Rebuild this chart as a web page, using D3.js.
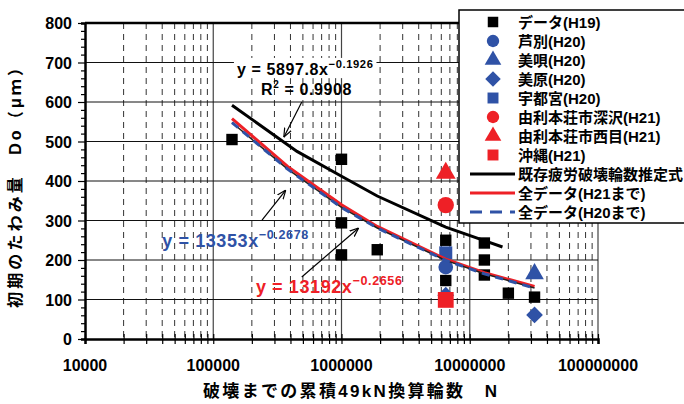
<!DOCTYPE html>
<html>
<head>
<meta charset="utf-8">
<script src="https://cdn.jsdelivr.net/npm/d3@7"></script>
<style>
  body { margin: 0; background: #fff; }
  text { font-family: "Liberation Sans", "Noto Sans CJK JP", sans-serif; font-weight: bold; }
</style>
</head>
<body>
<script>
// data
const h19N = [1.4e5, 1e6, 1e6, 1e6, 1.9e6, 6.5e6, 6.5e6, 1.3e7, 1.3e7, 1.3e7, 2e7, 3.2e7];
const h19D = [505, 455, 294, 213, 226, 250, 148, 243, 200, 162, 116, 106];
const ashibetsuN = [6.5e6], ashibetsuD = [182];
const bibaiN = [3.2e7], bibaiD = [165];
const biharaN = [6.5e6, 3.2e7], biharaD = [111, 61];
const utsunomiyaN = [6.5e6], utsunomiyaD = [218];
const fukasawaN = [6.5e6], fukasawaD = [339];
const nishimeN = [6.5e6], nishimeD = [420];
const okinawaN = [6.5e6], okinawaD = [99];

// fitted curves as drawn
const oldFitN = [1.4e5, 4.5e5, 1e6, 1.9e6, 6.5e6, 1.3e7, 1.8e7];
const oldFitD = [592, 475, 412, 362, 283, 249, 233];
const fitN = [1.4e5, 3.8e5, 1e6, 1.9e6, 6.5e6, 1.3e7, 3.2e7];
const fitH21D = [558, 437, 340, 285, 202, 168, 133];
const fitH20D = [548, 430, 333, 281, 199, 165, 129];

const xTicks = [1e4, 1e5, 1e6, 1e7, 1e8];
const yTicks = [0, 100, 200, 300, 400, 500, 600, 700, 800];

const legendLabels = ['データ(H19)', '芦別(H20)', '美唄(H20)', '美原(H20)', '宇都宮(H20)',
  '由利本荘市深沢(H21)', '由利本荘市西目(H21)', '沖縄(H21)',
  '既存疲労破壊輪数推定式', '全データ(H21まで)', '全データ(H20まで)'];

const W = 684, H = 404;
const pl = 85, pr = 598, pt = 23, pb = 339;
const BLUE = '#2f52a6', RED = '#ee2026';

const svg = d3.select('body').append('svg')
  .attr('width', W).attr('height', H);
svg.append('rect').attr('width', W).attr('height', H).attr('fill', '#fff');

const x = d3.scaleLog().domain([1e4, 1e8]).range([pl, pr]);
const y = d3.scaleLinear().domain([0, 800]).range([pb, pt]);

// minor vertical grid (dashed)
const minors = [];
for (let d = 1e4; d < 1e8; d *= 10)
  for (let k = 2; k <= 9; k++) minors.push(d * k);

const grid = svg.append('g');
grid.selectAll('.vmin').data(minors).enter().append('line')
  .attr('x1', d => x(d)).attr('x2', d => x(d))
  .attr('y1', pt).attr('y2', pb)
  .attr('stroke', '#333').attr('stroke-width', 1).attr('stroke-dasharray', '6,5');
grid.selectAll('.vmaj').data(xTicks.slice(1)).enter().append('line')
  .attr('x1', d => x(d)).attr('x2', d => x(d))
  .attr('y1', pt).attr('y2', pb)
  .attr('stroke', '#444').attr('stroke-width', 1.2);
grid.selectAll('.hmaj').data(yTicks.slice(1, -1)).enter().append('line')
  .attr('x1', pl).attr('x2', pr)
  .attr('y1', d => y(d)).attr('y2', d => y(d))
  .attr('stroke', '#111').attr('stroke-width', 1);

// frame
svg.append('line').attr('x1', pl).attr('x2', pr).attr('y1', pt).attr('y2', pt)
  .attr('stroke', '#000').attr('stroke-width', 2.5);

// axes
const yAxis = d3.axisLeft(y).tickValues(d3.range(0, 801, 20)).tickSize(4).tickFormat('');
svg.append('g').attr('transform', `translate(${pl},0)`).call(yAxis)
  .call(g => g.select('.domain').attr('stroke-width', 2.5))
  .call(g => g.selectAll('.tick line').attr('x2', d => d % 100 === 0 ? -7 : -4).attr('stroke-width', 1.2));
svg.append('g').selectAll('text').data(yTicks).enter().append('text')
  .attr('x', 72).attr('y', d => y(d) + 6)
  .attr('text-anchor', 'end').attr('font-size', 16).text(d => d);

const xAxis = d3.axisBottom(x).tickValues(xTicks.concat(minors)).tickSize(5).tickFormat('');
svg.append('g').attr('transform', `translate(0,${pb})`).call(xAxis)
  .call(g => g.select('.domain').attr('stroke-width', 2.5))
  .call(g => g.selectAll('.tick line').attr('y1', -5).attr('stroke-width', 1.2));
svg.append('g').selectAll('text').data(xTicks).enter().append('text')
  .attr('x', d => x(d)).attr('y', 371)
  .attr('text-anchor', 'middle').attr('font-size', 16).text(d => d);

// axis titles
svg.append('text').attr('x', 350).attr('y', 397).attr('text-anchor', 'middle')
  .attr('font-size', 17).attr('textLength', 294).attr('lengthAdjust', 'spacing')
  .text('破壊までの累積49kN換算輪数　N');
svg.append('text').attr('transform', 'translate(21,184) rotate(-90)').attr('text-anchor', 'middle')
  .attr('font-size', 16).attr('textLength', 248).attr('lengthAdjust', 'spacing')
  .text('初期のたわみ量　Do（μｍ）');

// markers
const diamond = { draw(ctx, size) { const r = Math.sqrt(size) / Math.SQRT2; ctx.moveTo(0, -r); ctx.lineTo(r, 0); ctx.lineTo(0, r); ctx.lineTo(-r, 0); ctx.closePath(); } };
const series = [
  { n: h19N, d: h19D, shape: d3.symbolSquare, size: 130, color: '#000' },
  { n: ashibetsuN, d: ashibetsuD, shape: d3.symbolCircle, size: 170, color: BLUE },
  { n: bibaiN, d: bibaiD, shape: d3.symbolTriangle, size: 150, color: BLUE },
  { n: biharaN, d: biharaD, shape: diamond, size: 140, color: BLUE },
  { n: utsunomiyaN, d: utsunomiyaD, shape: d3.symbolSquare, size: 170, color: BLUE },
  { n: fukasawaN, d: fukasawaD, shape: d3.symbolCircle, size: 210, color: RED },
  { n: nishimeN, d: nishimeD, shape: d3.symbolTriangle, size: 170, color: RED },
  { n: okinawaN, d: okinawaD, shape: d3.symbolSquare, size: 250, color: RED }
];
series.forEach(s => {
  svg.append('g').selectAll('path').data(d3.zip(s.n, s.d)).enter().append('path')
    .attr('transform', p => `translate(${x(p[0])},${y(p[1])})`)
    .attr('d', d3.symbol().type(s.shape).size(s.size)())
    .attr('fill', s.color);
});

// fitted lines
const line = d3.line().x(p => x(p[0])).y(p => y(p[1]));
svg.append('path').datum(d3.zip(oldFitN, oldFitD)).attr('d', line)
  .attr('fill', 'none').attr('stroke', '#000').attr('stroke-width', 3);
svg.append('path').datum(d3.zip(fitN, fitH21D)).attr('d', line)
  .attr('fill', 'none').attr('stroke', RED).attr('stroke-width', 3);
svg.append('path').datum(d3.zip(fitN, fitH20D)).attr('d', line)
  .attr('fill', 'none').attr('stroke', '#222').attr('stroke-width', 1.5);
svg.append('path').datum(d3.zip(fitN, fitH20D)).attr('d', line)
  .attr('fill', 'none').attr('stroke', BLUE).attr('stroke-width', 3).attr('stroke-dasharray', '8,6');

// annotations
svg.append('defs').append('marker').attr('id', 'arr')
  .attr('viewBox', '0 0 10 10').attr('refX', 10).attr('refY', 5)
  .attr('markerWidth', 9).attr('markerHeight', 9).attr('orient', 'auto')
  .attr('markerUnits', 'userSpaceOnUse')
  .append('path').attr('d', 'M0,1 L10,5 L0,9').attr('fill', 'none').attr('stroke', '#000').attr('stroke-width', 1.3);

const arrows = [
  [[4.9e5, 600], [3.55e5, 511]],
  [[2.4e5, 301], [3.68e5, 377]],
  [[4.9e5, 157], [1.36e6, 281]]
];
svg.append('g').selectAll('line').data(arrows).enter().append('line')
  .attr('x1', a => x(a[0][0])).attr('y1', a => y(a[0][1]))
  .attr('x2', a => x(a[1][0])).attr('y2', a => y(a[1][1]))
  .attr('stroke', '#000').attr('stroke-width', 1.2).attr('marker-end', 'url(#arr)');

function equation(n, d, base, sup, color, fs) {
  const g = svg.append('g');
  const bg = g.append('rect').attr('fill', '#fff');
  const t = g.append('text').attr('x', x(n)).attr('y', y(d)).attr('font-size', fs)
    .attr('fill', color).attr('letter-spacing', 0.6);
  t.append('tspan').text(base);
  t.append('tspan').attr('dy', -fs * 0.45).attr('font-size', fs * 0.7).text(sup);
  return { g, bg, t };
}
const eqOld = equation(1.53e5, 668, 'y = 5897.8x', '−0.1926', '#000', 16);
const bb = eqOld.t.node().getBBox();
eqOld.bg.attr('x', bb.x - 3).attr('y', bb.y).attr('width', bb.width + 6).attr('height', bb.height);
const r2 = svg.append('text').attr('x', x(2.36e5)).attr('y', y(618)).attr('font-size', 16).attr('letter-spacing', 0.6);
r2.append('tspan').text('R');
r2.append('tspan').attr('dy', -7).attr('font-size', 10).text('2');
r2.append('tspan').attr('dy', 7).text(' = 0.9908');

equation(4.0e4, 233, 'y = 13353x', '−0.2678', BLUE, 18);
equation(2.15e5, 116, 'y = 13192x', '−0.2656', RED, 18);

// legend
const lg = svg.append('g');
lg.append('rect').attr('x', 459).attr('y', 10).attr('width', 240).attr('height', 213)
  .attr('fill', '#fff').attr('stroke', '#000').attr('stroke-width', 1.5);
const ly = i => 22 + i * 19;
series.forEach((s, i) => {
  lg.append('path').attr('transform', `translate(493,${ly(i)})`)
    .attr('d', d3.symbol().type(s.shape).size(i === 0 ? 110 : 120)())
    .attr('fill', s.color);
});
const lineStyles = [
  { color: '#000', dash: null },
  { color: RED, dash: null },
  { color: BLUE, dash: '12,8' }
];
lineStyles.forEach((l, j) => {
  lg.append('line').attr('x1', 470).attr('x2', 515).attr('y1', ly(8 + j)).attr('y2', ly(8 + j))
    .attr('stroke', l.color).attr('stroke-width', 3).attr('stroke-dasharray', l.dash);
});
lg.selectAll('text').data(legendLabels).enter().append('text')
  .attr('x', 518).attr('y', (d, i) => ly(i) + 5.5).attr('font-size', 15).text(d => d);
</script>
</body>
</html>
